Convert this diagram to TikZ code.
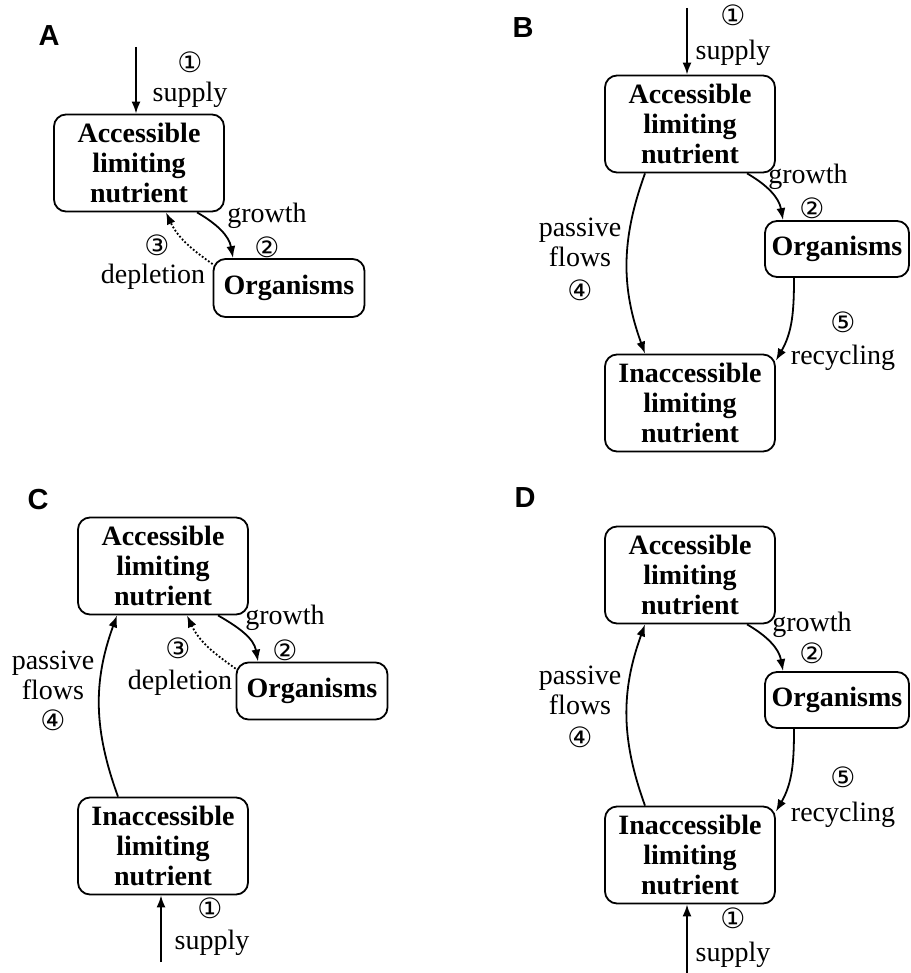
\documentclass[tikz,border=0pt]{standalone}
\usepackage{fontspec}
\setmainfont{Liberation Serif}
\newfontfamily\circfont{DejaVu Sans}
\newfontfamily\panelfont{Liberation Sans}
\usetikzlibrary{arrows.meta}
\begin{document}
\begin{tikzpicture}[x=1pt,y=-1pt,
   pool/.style={draw,line width=1.8pt,rounded corners=12pt,minimum width=170pt,minimum height=97pt,inner sep=0pt,align=center,font=\bfseries\fontsize{28}{30}\selectfont},
   orgbox/.style={pool,minimum width=151pt,minimum height=58pt},
   lbl/.style={inner sep=0pt,align=center,font=\fontsize{28}{30}\selectfont},
   num/.style={inner sep=0pt,font=\circfont\fontsize{28}{30}\selectfont},
   panel/.style={inner sep=0pt,font=\panelfont\bfseries\fontsize{29}{30}\selectfont},
   flow/.style={black,line width=1.8pt,-{Latex[length=12pt,width=9pt]}},
   leak/.style={flow,dotted}]
   \useasboundingbox (0,0) rectangle (910,973);
   % A
   \node[panel] (labA) at (49,36) {A};
   \node[pool] (accA) at (139,163) {Accessible\\limiting\\nutrient};
   \node[orgbox] (orgA) at (289,288) {Organisms};
   \coordinate (inA) at (136,47);
   \node[num] (oneA) at (190,62) {①};
   \node[lbl] (supA) at (190,95) {supply};
   \node[lbl] (groA) at (267,216) {growth};
   \node[num] (twoA) at (267,247) {②};
   \node[num] (thrA) at (157,245) {③};
   \node[lbl] (depA) at (153,277) {depletion};
   \draw[flow] (inA) -- ([xshift=-3pt]accA.north);
   \draw[flow] ([xshift=58pt]accA.south) to[out=-30,in=100] ([xshift=-56pt]orgA.north);
   \draw[leak] ([yshift=-6pt]orgA.north west) to[out=145,in=-65] ([xshift=27pt]accA.south);
   % B
   \node[panel] (labB) at (523,28) {B};
   \node[pool] (accB) at (690,124) {Accessible\\limiting\\nutrient};
   \node[orgbox,minimum width=144pt,minimum height=56pt] (orgB) at (837,249) {Organisms};
   \node[pool] (inaccB) at (690,403) {Inaccessible\\limiting\\nutrient};
   \coordinate (inB) at (687,8);
   \node[num] (oneB) at (733,15) {①};
   \node[lbl] (supB) at (733,53) {supply};
   \node[lbl] (groB) at (808,177) {growth};
   \node[num] (twoB) at (812,208) {②};
   \node[lbl] (pasB) at (580,242) {passive\\flows};
   \node[num] (fouB) at (580,290) {④};
   \node[num] (fivB) at (843,322) {⑤};
   \node[lbl] (recB) at (843,358) {recycling};
   \draw[flow] (inB) -- ([xshift=-3pt]accB.north);
   \draw[flow] ([xshift=57pt]accB.south) to[out=-30,in=100] ([xshift=-54pt]orgB.north);
   \draw[flow] ([xshift=-45pt]accB.south) to[out=-110,in=110] ([xshift=-45pt]inaccB.north);
   \draw[flow] ([xshift=-43pt]orgB.south) to[out=-90,in=60] ([yshift=-7pt]inaccB.north east);
   % C
   \node[panel] (labC) at (38,500) {C};
   \node[pool] (accC) at (163,566) {Accessible\\limiting\\nutrient};
   \node[orgbox,minimum height=57pt] (orgC) at (312,691) {Organisms};
   \node[pool] (inaccC) at (163,846) {Inaccessible\\limiting\\nutrient};
   \coordinate (inC) at (161,962);
   \node[lbl] (groC) at (285,618) {growth};
   \node[num] (twoC) at (285,650) {②};
   \node[num] (thrC) at (178,648) {③};
   \node[lbl] (depC) at (180,683) {depletion};
   \node[lbl] (pasC) at (53,675) {passive\\flows};
   \node[num] (fouC) at (53,720) {④};
   \node[num] (oneC) at (210,908) {①};
   \node[lbl] (supC) at (212,943) {supply};
   \draw[flow] (inC) -- ([xshift=-2pt]inaccC.south);
   \draw[flow] ([xshift=55pt]accC.south) to[out=-30,in=100] ([xshift=-54pt]orgC.north);
   \draw[leak] ([yshift=-7pt]orgC.north west) to[out=145,in=-65] ([xshift=24pt]accC.south);
   \draw[flow] ([xshift=-45pt]inaccC.north) to[out=110,in=-110] ([xshift=-46pt]accC.south);
   % D
   \node[panel] (labD) at (525,498) {D};
   \node[pool] (accD) at (690,575) {Accessible\\limiting\\nutrient};
   \node[orgbox,minimum width=144pt,minimum height=56pt] (orgD) at (837,700) {Organisms};
   \node[pool] (inaccD) at (690,855) {Inaccessible\\limiting\\nutrient};
   \coordinate (inD) at (687,973);
   \node[lbl] (groD) at (812,625) {growth};
   \node[num] (twoD) at (812,653) {②};
   \node[lbl] (pasD) at (580,690) {passive\\flows};
   \node[num] (fouD) at (580,737) {④};
   \node[num] (fivD) at (843,777) {⑤};
   \node[lbl] (recD) at (843,815) {recycling};
   \node[num] (oneD) at (733,918) {①};
   \node[lbl] (supD) at (733,955) {supply};
   \draw[flow] (inD) -- ([xshift=-3pt]inaccD.south);
   \draw[flow] ([xshift=57pt]accD.south) to[out=-30,in=100] ([xshift=-54pt]orgD.north);
   \draw[flow] ([xshift=-45pt]inaccD.north) to[out=110,in=-110] ([xshift=-45pt]accD.south);
   \draw[flow] ([xshift=-43pt]orgD.south) to[out=-90,in=60] ([yshift=-6pt]inaccD.north east);
\end{tikzpicture}
\end{document}
